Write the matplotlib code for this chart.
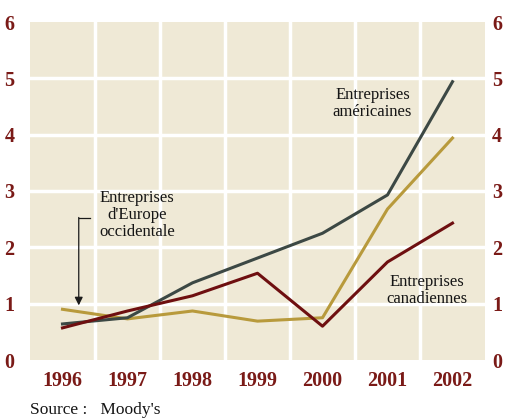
import numpy as np
import matplotlib.pyplot as plt

years = [1996, 1997, 1998, 1999, 2000, 2001, 2002]
americaines = [0.64, 0.75, 1.37, 1.81, 2.25, 2.93, 4.94]
canadiennes = [0.57, 0.87, 1.14, 1.54, 0.60, 1.74, 2.43]
europe = [0.90, 0.73, 0.87, 0.69, 0.75, 2.68, 3.94]

bg = '#efe9d6'
red = '#7a1a17'
font = 'Liberation Serif'

fig = plt.figure(figsize=(5.07, 4.19), dpi=100)
ax = fig.add_axes([30 / 507, 59 / 419, 455 / 507, 338 / 419])
ax.set_facecolor(bg)

ax.plot(years, americaines, color='#3c4844', lw=2.2, zorder=4)
ax.plot(years, europe, color='#b89a3c', lw=2.2, zorder=3)
ax.plot(years, canadiennes, color='#6e0f10', lw=2.2, zorder=5)

ax.set_xlim(1995.5, 2002.5)
ax.set_ylim(0, 6)
for x in np.arange(1996.5, 2002.5, 1):
    ax.axvline(x, color='white', lw=2.5, zorder=1)
for y in range(1, 6):
    ax.axhline(y, color='white', lw=2.5, zorder=1)

for s in ax.spines.values():
    s.set_visible(False)
ax.set_xticks(years)
ax.set_xticklabels([str(y) for y in years])
ax.set_yticks(range(7))
ax.tick_params(length=0, labelcolor=red, labelsize=14.5)
ax.tick_params(axis='x', pad=8)
ax.tick_params(axis='y', pad=11)

# right-hand scale
ax2 = ax.twinx()
ax2.set_ylim(0, 6)
ax2.set_yticks(range(7))
ax2.tick_params(length=0, labelcolor=red, labelsize=14.5, pad=5)
for s in ax2.spines.values():
    s.set_visible(False)

for lab in ax.get_xticklabels() + ax.get_yticklabels() + ax2.get_yticklabels():
    lab.set_fontfamily(font)
    lab.set_fontweight('bold')

txt = dict(fontfamily=font, fontsize=12, ha='center', va='center',
           linespacing=1.1, color='#151515', zorder=6)
ax.text(1997.15, 2.57, "Entreprises\nd'Europe\noccidentale", **txt)
ax.text(2000.77, 4.55, "Entreprises\naméricaines", **txt)
ax.text(2001.61, 1.24, "Entreprises\ncanadiennes", **txt)

# bracket arrow for the European label
ax.plot([1996.42, 1996.25], [2.52, 2.52], color='#1a1a1a', lw=0.9, zorder=6)
ax.annotate('', xy=(1996.25, 0.97), xytext=(1996.25, 2.53),
            arrowprops=dict(arrowstyle='-|>', color='#1a1a1a', lw=0.9,
                            mutation_scale=12, shrinkA=0, shrinkB=0), zorder=6)

fig.text(30 / 507, 1 - 410 / 419, "Source :   Moody's", fontfamily=font,
         fontsize=12.5, va='center', ha='left', color='#151515')

fig.savefig('out.png', dpi=100, facecolor='white')
